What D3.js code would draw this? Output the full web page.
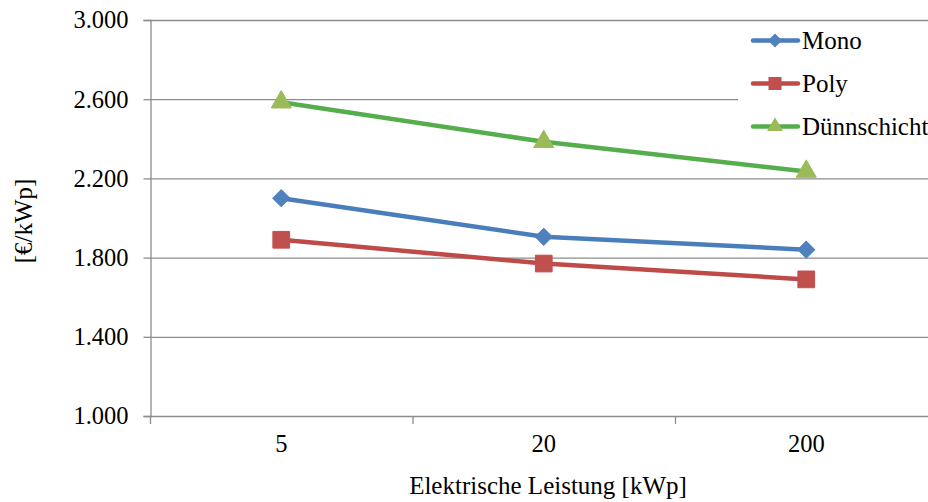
<!DOCTYPE html>
<html>
<head>
<meta charset="utf-8">
<script src="https://cdn.jsdelivr.net/npm/d3@7"></script>
<style>
  body { margin: 0; background: #fff; }
  svg { display: block; }
  text { font-family: "Liberation Serif", "DejaVu Serif", serif; }
</style>
</head>
<body>
<svg id="chart" width="928" height="502"></svg>
<script>
var categories = ["5", "20", "200"];
var mono = [2100, 1905, 1840];
var poly = [1890, 1770, 1690];
var duenn = [2585, 2385, 2235];
var yTicks = [1000, 1400, 1800, 2200, 2600, 3000];
var seriesNames = ["Mono", "Poly", "Dünnschicht"];

var width = 928,
  height = 502,
  margin = { left: 150, top: 20, bottom: 86 },
  plotRight = 937.5,
  fontSize = 25;

var svg = d3.select("#chart");

var x = d3.scaleBand().domain(categories).range([margin.left, plotRight]);
var y = d3.scaleLinear().domain([1000, 3000]).range([height - margin.bottom, margin.top]);

// german style thousands separator: 1.000
var locale = d3.formatLocale({ decimal: ",", thousands: ".", grouping: [3], currency: ["", "€"] });
var fmt = locale.format(",.0f");

var diamond = {
  draw: function (ctx, size) {
    var r = Math.sqrt(size / 2);
    ctx.moveTo(0, -r);
    ctx.lineTo(r, 0);
    ctx.lineTo(0, r);
    ctx.lineTo(-r, 0);
    ctx.closePath();
  }
};

var series = [
  { name: seriesNames[0], values: mono, line: "#4A7EBB", fill: "#4F81BD", shape: diamond, size: 150, lsize: 100 },
  { name: seriesNames[1], values: poly, line: "#BE4B48", fill: "#C0504D", shape: d3.symbolSquare, size: 280, lsize: 170 },
  { name: seriesNames[2], values: duenn, line: "#55AE4B", fill: "#9BBB59", shape: d3.symbolTriangle, size: 175, lsize: 110 }
];

// gridlines
svg.append("g")
  .selectAll("line")
  .data(yTicks)
  .enter().append("line")
  .attr("x1", margin.left).attr("x2", width)
  .attr("y1", function (d) { return y(d) + 0.5; })
  .attr("y2", function (d) { return y(d) + 0.5; })
  .attr("stroke", "#8c8c8c").attr("stroke-width", 1.3);

// y axis
var yAxis = svg.append("g")
  .attr("transform", "translate(" + (margin.left + 0.5) + ",0)")
  .call(d3.axisLeft(y).tickValues(yTicks).tickFormat(fmt).tickSize(7).tickPadding(15));
yAxis.attr("font-family", null);
yAxis.select(".domain").attr("stroke", "#8c8c8c").attr("stroke-width", 1.3);
yAxis.selectAll(".tick line").attr("stroke", "#8c8c8c").attr("stroke-width", 1.3);
yAxis.selectAll("text").attr("font-size", 24.5).attr("fill", "#000");

// x axis: labels at band centres, ticks at band boundaries
var xAxis = svg.append("g")
  .attr("transform", "translate(0," + (y(1000) + 0.5) + ")")
  .call(d3.axisBottom(x).tickSize(0).tickPadding(18));
xAxis.attr("font-family", null);
xAxis.select(".domain").remove();
xAxis.selectAll("text").attr("font-size", 24.5).attr("fill", "#000");

var bounds = categories.map(function (c) { return x(c); }).concat([plotRight]);
svg.append("g")
  .selectAll("line")
  .data(bounds)
  .enter().append("line")
  .attr("x1", function (d) { return d + 0.5; })
  .attr("x2", function (d) { return d + 0.5; })
  .attr("y1", y(1000))
  .attr("y2", y(1000) + 8)
  .attr("stroke", "#8c8c8c").attr("stroke-width", 1.3);

// lines + markers
var line = d3.line()
  .x(function (d, i) { return x(categories[i]) + x.bandwidth() / 2; })
  .y(function (d) { return y(d); });

series.forEach(function (s) {
  svg.append("path")
    .attr("d", line(s.values))
    .attr("fill", "none")
    .attr("stroke", s.line)
    .attr("stroke-width", 4.5)
    .attr("stroke-linejoin", "round");

  svg.append("g")
    .selectAll("path")
    .data(s.values)
    .enter().append("path")
    .attr("d", d3.symbol().type(s.shape).size(s.size))
    .attr("transform", function (d, i) {
      return "translate(" + (x(categories[i]) + x.bandwidth() / 2) + "," + y(d) + ")";
    })
    .attr("fill", s.fill)
    .attr("stroke", s.fill)
    .attr("stroke-width", 1);
});

// legend
var legend = svg.append("g").attr("transform", "translate(738,22)");
legend.append("rect")
  .attr("x", 0).attr("y", 0)
  .attr("width", 200).attr("height", 128)
  .attr("fill", "#fff");

var item = legend.selectAll(".legend")
  .data(series)
  .enter().append("g")
  .attr("class", "legend")
  .attr("transform", function (d, i) { return "translate(0," + (18.5 + i * 43) + ")"; });

item.append("line")
  .attr("x1", 15).attr("x2", 60)
  .attr("y1", 0).attr("y2", 0)
  .attr("stroke", function (d) { return d.line; })
  .attr("stroke-width", 4.5)
  .attr("stroke-linecap", "round");

item.append("path")
  .attr("d", function (d) { return d3.symbol().type(d.shape).size(d.lsize)(); })
  .attr("transform", "translate(37,0)")
  .attr("fill", function (d) { return d.fill; });

item.append("text")
  .attr("x", 64)
  .attr("y", 0)
  .attr("dy", "0.35em")
  .attr("font-size", fontSize)
  .text(function (d) { return d.name; });

// axis titles
svg.append("text")
  .attr("x", 548)
  .attr("y", 494)
  .attr("text-anchor", "middle")
  .attr("font-size", fontSize)
  .text("Elektrische Leistung [kWp]");

svg.append("text")
  .attr("transform", "translate(32,221) rotate(-90)")
  .attr("text-anchor", "middle")
  .attr("font-size", fontSize)
  .text("[€/kWp]");
</script>
</body>
</html>
